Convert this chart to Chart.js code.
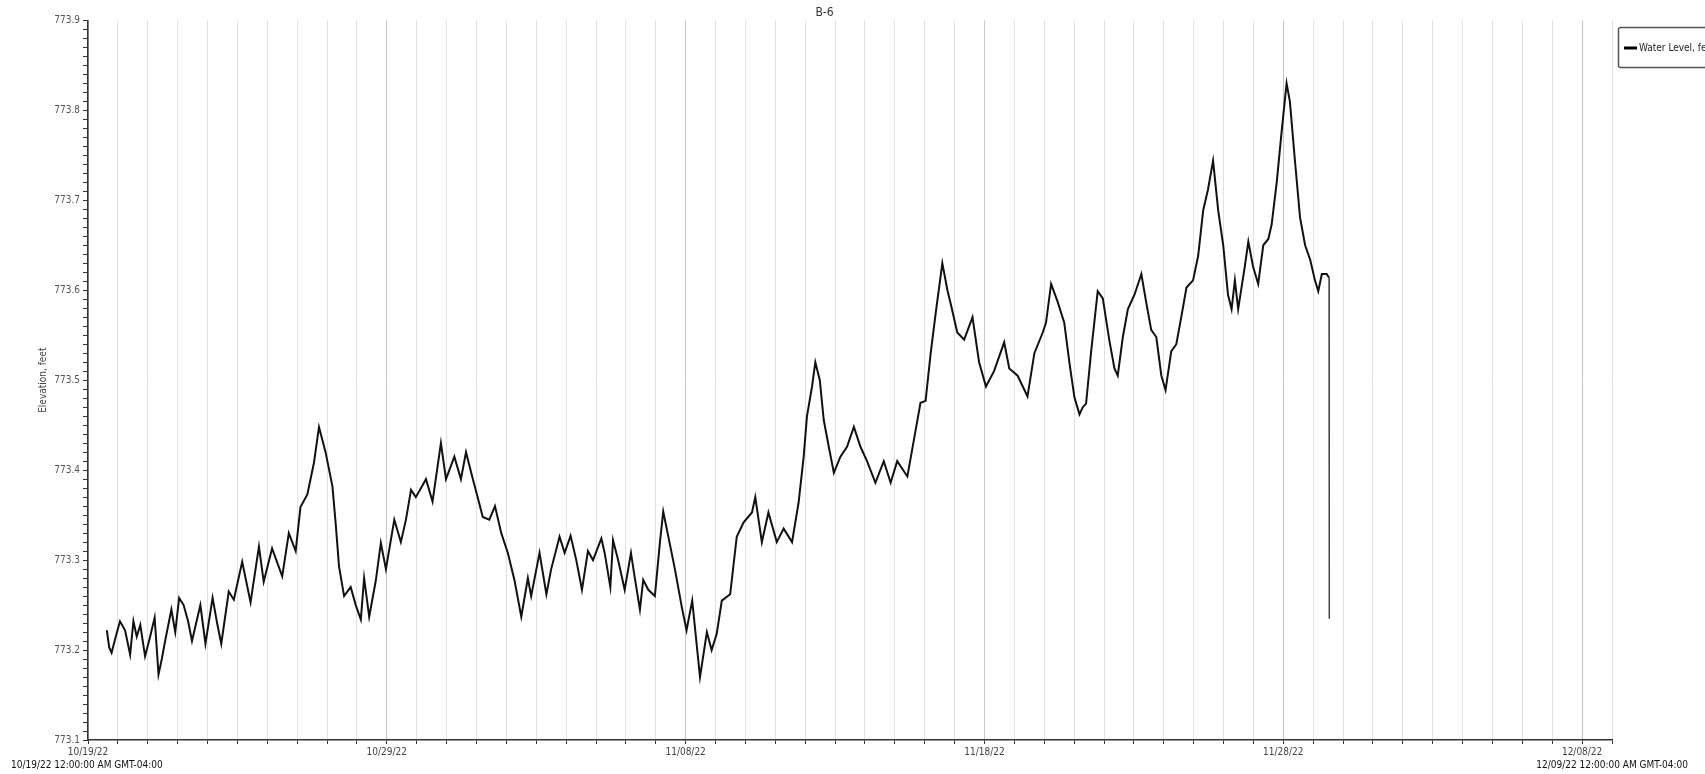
<!DOCTYPE html>
<html>
<head>
<meta charset="utf-8">
<title>B-6</title>
<script src="https://cdn.jsdelivr.net/npm/chart.js@4.4.0/dist/chart.umd.min.js"></script>
<style>
  html, body { margin: 0; padding: 0; background: #fff; }
  #wrap { width: 1705px; height: 774px; position: relative; }
</style>
</head>
<body>
<div id="wrap"><canvas id="levelChart"></canvas></div>
<script>
// B-6 well logger, elevation readings (days since 10/19/22 00:00)
const days = [
  0.63, 0.71, 0.79, 0.93, 1.07, 1.24, 1.41, 1.52, 1.63, 1.75, 1.91, 2.08, 2.23, 2.36, 2.47, 2.58,
  2.79, 2.92, 3.05, 3.20, 3.35, 3.48, 3.76, 3.93, 4.17, 4.32, 4.46, 4.71, 4.88, 5.16, 5.44, 5.72,
  5.88, 6.16, 6.50, 6.72, 6.95, 7.11, 7.34, 7.56, 7.73, 7.95, 8.18, 8.29, 8.40, 8.57, 8.79, 8.96,
  9.13, 9.24, 9.41, 9.63, 9.80, 9.97, 10.25, 10.47, 10.64, 10.81,
  10.97, 11.14, 11.31, 11.53, 11.81, 11.98, 12.26, 12.48, 12.65, 12.88, 13.04, 13.21, 13.43, 13.62,
  13.83, 14.05, 14.27, 14.50, 14.72, 14.83, 15.11, 15.34, 15.50, 15.78, 15.95, 16.15, 16.34, 16.53,
  16.73, 16.90, 17.18, 17.29, 17.48, 17.57, 17.74, 17.96, 18.17, 18.30, 18.47, 18.58, 18.75, 18.97,
  19.14, 19.25, 19.47, 19.64, 19.87, 20.03, 20.22, 20.48, 20.71, 20.87, 21.04, 21.21, 21.49,
  21.71, 21.94, 22.22, 22.33, 22.55, 22.77, 23.05, 23.28, 23.56, 23.78, 23.95, 24.06, 24.23, 24.34,
  24.49, 24.62, 24.79, 24.96, 25.18, 25.40, 25.63, 25.85, 26.07, 26.35, 26.63, 26.86, 27.08, 27.42,
  27.64, 27.86, 28.03, 28.20, 28.37, 28.59, 28.76, 28.87, 29.09, 29.32, 29.60, 29.82, 30.05, 30.32,
  30.66, 30.83, 31.11, 31.44, 31.67, 31.95,
  32.06, 32.23, 32.45, 32.67, 32.84, 33.01, 33.18, 33.29, 33.40, 33.57, 33.79, 33.96, 34.18, 34.35,
  34.46, 34.63, 34.80, 35.02, 35.25, 35.41, 35.58, 35.75, 35.92, 36.06, 36.25, 36.42, 36.59, 36.76,
  36.98, 37.15, 37.32, 37.48, 37.65, 37.82, 37.99, 38.15, 38.27, 38.38, 38.49, 38.71, 38.83, 38.99,
  39.16, 39.33, 39.50, 39.61, 39.78, 39.94, 40.11, 40.22, 40.39, 40.56, 40.73, 40.90, 41.06, 41.17,
  41.29, 41.45, 41.53, 41.54
];

const level = [
  773.222, 773.203, 773.197, 773.215, 773.232, 773.222, 773.195, 773.232, 773.215, 773.228, 773.193, 773.215, 773.236, 773.173, 773.190, 773.210,
  773.245, 773.220, 773.258, 773.250, 773.232, 773.210, 773.250, 773.207, 773.258, 773.230, 773.207, 773.265, 773.256, 773.298, 773.253, 773.315,
  773.276, 773.313, 773.282, 773.330, 773.310, 773.359, 773.373, 773.408, 773.448, 773.420, 773.382, 773.340, 773.293, 773.260, 773.270, 773.250,
  773.234, 773.280, 773.237, 773.277, 773.319, 773.290, 773.345, 773.320, 773.345, 773.378,
  773.370, 773.380, 773.390, 773.365, 773.430, 773.390, 773.415, 773.390, 773.420, 773.390, 773.370, 773.348, 773.345, 773.360,
  773.330, 773.308, 773.278, 773.237, 773.280, 773.260, 773.308, 773.262, 773.290, 773.326, 773.308, 773.327, 773.300, 773.267,
  773.310, 773.300, 773.324, 773.308, 773.270, 773.322, 773.300, 773.267, 773.308, 773.280, 773.245, 773.278, 773.267, 773.260,
  773.320, 773.354, 773.318, 773.290, 773.248, 773.222, 773.255, 773.170, 773.220, 773.200, 773.218, 773.255, 773.262,
  773.326, 773.342, 773.353, 773.370, 773.320, 773.353, 773.320, 773.335, 773.320, 773.364, 773.415, 773.460, 773.493, 773.520,
  773.500, 773.456, 773.426, 773.397, 773.415, 773.426, 773.448, 773.426, 773.410, 773.386, 773.410, 773.386, 773.410, 773.393,
  773.434, 773.475, 773.477, 773.530, 773.575, 773.630, 773.600, 773.585, 773.553, 773.545, 773.570, 773.520, 773.493, 773.510,
  773.542, 773.513, 773.505, 773.482, 773.530, 773.553,
  773.564, 773.607, 773.587, 773.564, 773.520, 773.481, 773.462, 773.470, 773.474, 773.532, 773.599, 773.591, 773.544, 773.513,
  773.505, 773.548, 773.579, 773.595, 773.618, 773.587, 773.556, 773.548, 773.505, 773.489, 773.532, 773.540, 773.571, 773.603,
  773.611, 773.638, 773.689, 773.712, 773.744, 773.689, 773.650, 773.595, 773.579, 773.611, 773.579, 773.626, 773.654, 773.626,
  773.607, 773.650, 773.657, 773.673, 773.720, 773.775, 773.830, 773.810, 773.744, 773.681, 773.650, 773.634, 773.611, 773.599,
  773.618, 773.618, 773.614, 773.235
];

// labels every 10 days on the date axis
const xTickLabels = ['10/19/22', '10/29/22', '11/08/22', '11/18/22', '11/28/22', '12/08/22'];
const rangeStart = '10/19/22 12:00:00 AM GMT-04:00';
const rangeEnd = '12/09/22 12:00:00 AM GMT-04:00';
const seriesName = 'Water Level, feet';

const FONT = '"DejaVu Sans Condensed", "DejaVu Sans", sans-serif';

const points = days.map((d, i) => ({ x: d, y: level[i] }));
const lastIdx = points.length - 1;

// legend box and the start/end range text under the axis
const extras = {
  id: 'extras',
  afterDraw(chart) {
    const ctx = chart.ctx;
    ctx.save();
    ctx.strokeStyle = '#555';
    ctx.lineWidth = 1.5;
    ctx.beginPath();
    ctx.roundRect(1618.5, 27.5, 140, 40, 2);
    ctx.stroke();

    ctx.strokeStyle = '#000';
    ctx.lineWidth = 3;
    ctx.beginPath();
    ctx.moveTo(1624, 48);
    ctx.lineTo(1637, 48);
    ctx.stroke();

    ctx.font = '10px ' + FONT;
    ctx.fillStyle = '#222';
    ctx.textBaseline = 'middle';
    ctx.textAlign = 'left';
    ctx.fillText(seriesName, 1639, 48);

    ctx.fillStyle = '#111';
    ctx.fillText(rangeStart, 11, 765);
    ctx.textAlign = 'right';
    ctx.fillText(rangeEnd, 1688, 765);
    ctx.restore();
  }
};

const isMajorY = v => Math.abs(v * 10 - Math.round(v * 10)) < 1e-6;

new Chart(document.getElementById('levelChart'), {
  type: 'line',
  data: {
    datasets: [{
      label: seriesName,
      data: points,
      borderColor: '#111',
      borderWidth: 2,
      pointRadius: 0,
      tension: 0,
      fill: false,
      // the logger pull-out drop is drawn as a thin trace
      segment: {
        borderWidth: c => c.p1DataIndex === lastIdx ? 1 : 2,
        borderColor: c => c.p1DataIndex === lastIdx ? '#444' : '#111'
      }
    }]
  },
  options: {
    responsive: true,
    maintainAspectRatio: false,
    animation: false,
    layout: { padding: { left: 37, right: 93, top: 0, bottom: 0 } },
    plugins: {
      legend: { display: false },
      tooltip: { enabled: false },
      title: {
        display: true,
        text: 'B-6',
        color: '#333',
        font: { family: FONT, size: 12, weight: 'normal' },
        padding: { top: 6, bottom: 0 }
      }
    },
    scales: {
      x: {
        type: 'linear',
        min: 0,
        max: 51,
        afterFit(scale) { scale.height = 34; },
        border: { color: '#333', width: 1.5 },
        grid: {
          color: c => (c.tick && c.tick.value % 10 === 0) ? '#c4c4c4' : '#e2e2e2',
          lineWidth: 1,
          tickLength: 4,
          tickColor: '#333'
        },
        ticks: {
          stepSize: 1,
          autoSkip: false,
          maxTicksLimit: 60,
          maxRotation: 0,
          padding: 2,
          color: '#444',
          font: { family: FONT, size: 10 },
          callback: v => (v % 10 === 0 && xTickLabels[v / 10]) ? xTickLabels[v / 10] : ''
        }
      },
      y: {
        min: 773.1,
        max: 773.9,
        afterFit(scale) { scale.width = 51; },
        border: { color: '#333', width: 1.5 },
        title: {
          display: true,
          text: 'Elevation, feet',
          color: '#444',
          font: { family: FONT, size: 10 },
          padding: { top: 0, bottom: 4 }
        },
        grid: {
          drawOnChartArea: false,
          tickLength: 5,
          tickColor: '#333'
        },
        ticks: {
          stepSize: 0.01,
          autoSkip: false,
          maxTicksLimit: 100,
          padding: 3,
          color: '#555',
          font: { family: FONT, size: 10 },
          callback: v => isMajorY(v) ? v.toFixed(1) : ''
        }
      }
    }
  },
  plugins: [extras]
});
</script>
</body>
</html>
